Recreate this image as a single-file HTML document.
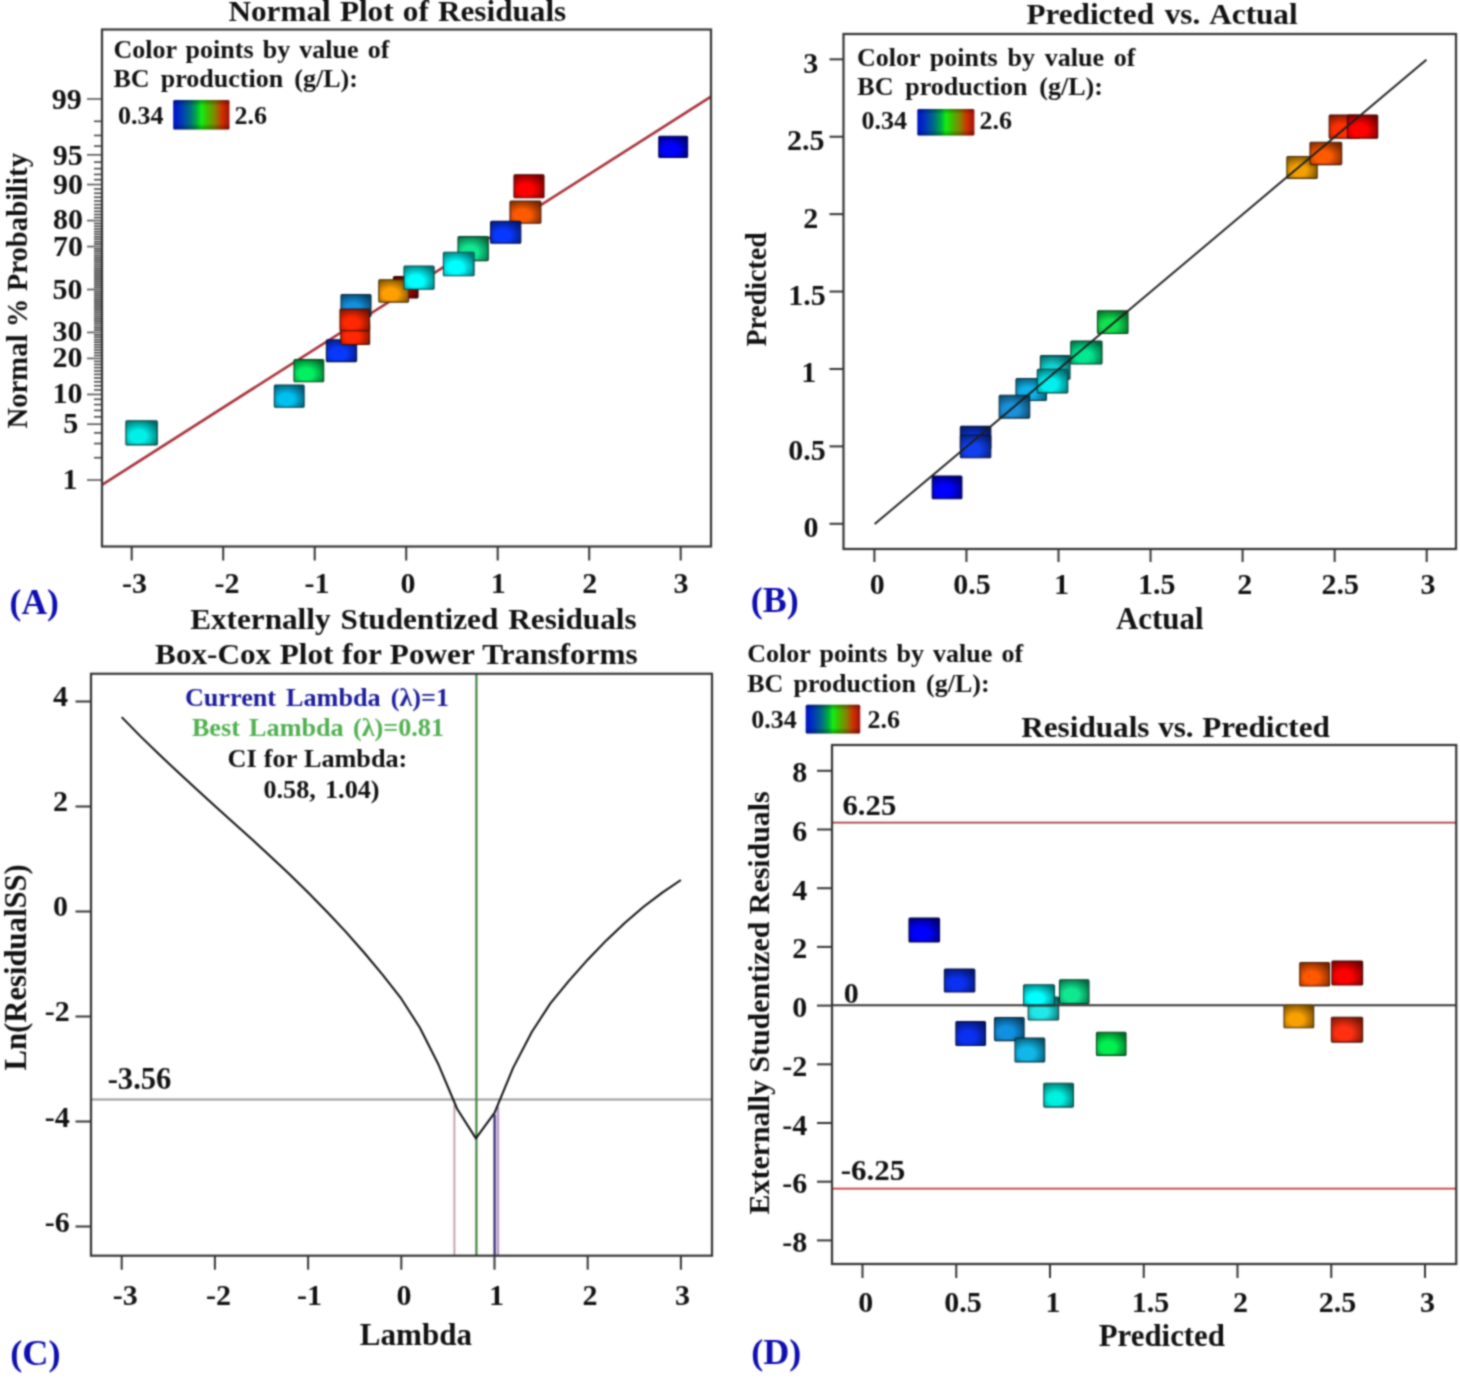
<!DOCTYPE html>
<html><head><meta charset="utf-8"><title>Diagnostics plots</title>
<style>
html,body{margin:0;padding:0;background:#fff;}
svg{display:block;}
text{font-family:"Liberation Serif",serif;font-weight:bold;}
</style></head><body>
<svg width="1460" height="1378" viewBox="0 0 1460 1378">
<defs><filter id="bl" x="0" y="0" width="1460" height="1378" filterUnits="userSpaceOnUse" color-interpolation-filters="sRGB"><feConvolveMatrix order="5" kernelMatrix="0.00048 0.00501 0.01095 0.00501 0.00048 0.00501 0.05222 0.11405 0.05222 0.00501 0.01095 0.11405 0.24912 0.11405 0.01095 0.00501 0.05222 0.11405 0.05222 0.00501 0.00048 0.00501 0.01095 0.00501 0.00048" divisor="1" edgeMode="duplicate"/></filter><radialGradient id="g00f0e8" cx="0.4" cy="0.62" r="0.72" fx="0.4" fy="0.66"><stop offset="0" stop-color="#00f0e8"/><stop offset="0.35" stop-color="#00f0e8"/><stop offset="1" stop-color="#006c68"/></radialGradient><radialGradient id="g00c0f0" cx="0.4" cy="0.62" r="0.72" fx="0.4" fy="0.66"><stop offset="0" stop-color="#00c0f0"/><stop offset="0.35" stop-color="#00c0f0"/><stop offset="1" stop-color="#00566c"/></radialGradient><radialGradient id="g00f060" cx="0.4" cy="0.62" r="0.72" fx="0.4" fy="0.66"><stop offset="0" stop-color="#00f060"/><stop offset="0.35" stop-color="#00f060"/><stop offset="1" stop-color="#006c2b"/></radialGradient><radialGradient id="g0838ff" cx="0.4" cy="0.62" r="0.72" fx="0.4" fy="0.66"><stop offset="0" stop-color="#0838ff"/><stop offset="0.35" stop-color="#0838ff"/><stop offset="1" stop-color="#041973"/></radialGradient><radialGradient id="g1090e0" cx="0.4" cy="0.62" r="0.72" fx="0.4" fy="0.66"><stop offset="0" stop-color="#1090e0"/><stop offset="0.35" stop-color="#1090e0"/><stop offset="1" stop-color="#074165"/></radialGradient><radialGradient id="gff2800" cx="0.4" cy="0.62" r="0.72" fx="0.4" fy="0.66"><stop offset="0" stop-color="#ff2800"/><stop offset="0.35" stop-color="#ff2800"/><stop offset="1" stop-color="#731200"/></radialGradient><radialGradient id="ga00000" cx="0.4" cy="0.62" r="0.72" fx="0.4" fy="0.66"><stop offset="0" stop-color="#a00000"/><stop offset="0.35" stop-color="#a00000"/><stop offset="1" stop-color="#480000"/></radialGradient><radialGradient id="gffa000" cx="0.4" cy="0.62" r="0.72" fx="0.4" fy="0.66"><stop offset="0" stop-color="#ffa000"/><stop offset="0.35" stop-color="#ffa000"/><stop offset="1" stop-color="#734800"/></radialGradient><radialGradient id="g00ffff" cx="0.4" cy="0.62" r="0.72" fx="0.4" fy="0.66"><stop offset="0" stop-color="#00ffff"/><stop offset="0.35" stop-color="#00ffff"/><stop offset="1" stop-color="#007373"/></radialGradient><radialGradient id="g10e890" cx="0.4" cy="0.62" r="0.72" fx="0.4" fy="0.66"><stop offset="0" stop-color="#10e890"/><stop offset="0.35" stop-color="#10e890"/><stop offset="1" stop-color="#076841"/></radialGradient><radialGradient id="gff5a00" cx="0.4" cy="0.62" r="0.72" fx="0.4" fy="0.66"><stop offset="0" stop-color="#ff5a00"/><stop offset="0.35" stop-color="#ff5a00"/><stop offset="1" stop-color="#732800"/></radialGradient><radialGradient id="gff0000" cx="0.4" cy="0.62" r="0.72" fx="0.4" fy="0.66"><stop offset="0" stop-color="#ff0000"/><stop offset="0.35" stop-color="#ff0000"/><stop offset="1" stop-color="#730000"/></radialGradient><radialGradient id="g0000ff" cx="0.4" cy="0.62" r="0.72" fx="0.4" fy="0.66"><stop offset="0" stop-color="#0000ff"/><stop offset="0.35" stop-color="#0000ff"/><stop offset="1" stop-color="#000073"/></radialGradient><radialGradient id="g0a34d8" cx="0.4" cy="0.62" r="0.72" fx="0.4" fy="0.66"><stop offset="0" stop-color="#0a34d8"/><stop offset="0.35" stop-color="#0a34d8"/><stop offset="1" stop-color="#041761"/></radialGradient><radialGradient id="g1040f0" cx="0.4" cy="0.62" r="0.72" fx="0.4" fy="0.66"><stop offset="0" stop-color="#1040f0"/><stop offset="0.35" stop-color="#1040f0"/><stop offset="1" stop-color="#071d6c"/></radialGradient><radialGradient id="g10b0e8" cx="0.4" cy="0.62" r="0.72" fx="0.4" fy="0.66"><stop offset="0" stop-color="#10b0e8"/><stop offset="0.35" stop-color="#10b0e8"/><stop offset="1" stop-color="#074f68"/></radialGradient><radialGradient id="g1a90d8" cx="0.4" cy="0.62" r="0.72" fx="0.4" fy="0.66"><stop offset="0" stop-color="#1a90d8"/><stop offset="0.35" stop-color="#1a90d8"/><stop offset="1" stop-color="#0c4161"/></radialGradient><radialGradient id="g10d0d0" cx="0.4" cy="0.62" r="0.72" fx="0.4" fy="0.66"><stop offset="0" stop-color="#10d0d0"/><stop offset="0.35" stop-color="#10d0d0"/><stop offset="1" stop-color="#075e5e"/></radialGradient><radialGradient id="g00f0f0" cx="0.4" cy="0.62" r="0.72" fx="0.4" fy="0.66"><stop offset="0" stop-color="#00f0f0"/><stop offset="0.35" stop-color="#00f0f0"/><stop offset="1" stop-color="#006c6c"/></radialGradient><radialGradient id="g00e890" cx="0.4" cy="0.62" r="0.72" fx="0.4" fy="0.66"><stop offset="0" stop-color="#00e890"/><stop offset="0.35" stop-color="#00e890"/><stop offset="1" stop-color="#006841"/></radialGradient><radialGradient id="g10e050" cx="0.4" cy="0.62" r="0.72" fx="0.4" fy="0.66"><stop offset="0" stop-color="#10e050"/><stop offset="0.35" stop-color="#10e050"/><stop offset="1" stop-color="#076524"/></radialGradient><radialGradient id="gf0a000" cx="0.4" cy="0.62" r="0.72" fx="0.4" fy="0.66"><stop offset="0" stop-color="#f0a000"/><stop offset="0.35" stop-color="#f0a000"/><stop offset="1" stop-color="#6c4800"/></radialGradient><radialGradient id="gff3000" cx="0.4" cy="0.62" r="0.72" fx="0.4" fy="0.66"><stop offset="0" stop-color="#ff3000"/><stop offset="0.35" stop-color="#ff3000"/><stop offset="1" stop-color="#731600"/></radialGradient><radialGradient id="g0a30f0" cx="0.4" cy="0.62" r="0.72" fx="0.4" fy="0.66"><stop offset="0" stop-color="#0a30f0"/><stop offset="0.35" stop-color="#0a30f0"/><stop offset="1" stop-color="#04166c"/></radialGradient><radialGradient id="g10b8e8" cx="0.4" cy="0.62" r="0.72" fx="0.4" fy="0.66"><stop offset="0" stop-color="#10b8e8"/><stop offset="0.35" stop-color="#10b8e8"/><stop offset="1" stop-color="#075368"/></radialGradient><radialGradient id="g20e8e8" cx="0.4" cy="0.62" r="0.72" fx="0.4" fy="0.66"><stop offset="0" stop-color="#20e8e8"/><stop offset="0.35" stop-color="#20e8e8"/><stop offset="1" stop-color="#0e6868"/></radialGradient><radialGradient id="g00f050" cx="0.4" cy="0.62" r="0.72" fx="0.4" fy="0.66"><stop offset="0" stop-color="#00f050"/><stop offset="0.35" stop-color="#00f050"/><stop offset="1" stop-color="#006c24"/></radialGradient><radialGradient id="g00f0e0" cx="0.4" cy="0.62" r="0.72" fx="0.4" fy="0.66"><stop offset="0" stop-color="#00f0e0"/><stop offset="0.35" stop-color="#00f0e0"/><stop offset="1" stop-color="#006c65"/></radialGradient><radialGradient id="gff5800" cx="0.4" cy="0.62" r="0.72" fx="0.4" fy="0.66"><stop offset="0" stop-color="#ff5800"/><stop offset="0.35" stop-color="#ff5800"/><stop offset="1" stop-color="#732800"/></radialGradient><radialGradient id="gff3010" cx="0.4" cy="0.62" r="0.72" fx="0.4" fy="0.66"><stop offset="0" stop-color="#ff3010"/><stop offset="0.35" stop-color="#ff3010"/><stop offset="1" stop-color="#731607"/></radialGradient><radialGradient id="gf8a000" cx="0.4" cy="0.62" r="0.72" fx="0.4" fy="0.66"><stop offset="0" stop-color="#f8a000"/><stop offset="0.35" stop-color="#f8a000"/><stop offset="1" stop-color="#704800"/></radialGradient><linearGradient id="cbar" x1="0" y1="0" x2="1" y2="0"><stop offset="0" stop-color="#0010c8"/><stop offset="0.12" stop-color="#0030c0"/><stop offset="0.3" stop-color="#007080"/><stop offset="0.42" stop-color="#00b040"/><stop offset="0.5" stop-color="#10f010"/><stop offset="0.6" stop-color="#40c000"/><stop offset="0.75" stop-color="#888000"/><stop offset="0.87" stop-color="#d03000"/><stop offset="1" stop-color="#a01010"/></linearGradient><linearGradient id="cbarv" x1="0" y1="0" x2="0" y2="1"><stop offset="0" stop-color="#000" stop-opacity="0.35"/><stop offset="0.2" stop-color="#000" stop-opacity="0"/><stop offset="0.8" stop-color="#000" stop-opacity="0"/><stop offset="1" stop-color="#000" stop-opacity="0.35"/></linearGradient></defs>
<g filter="url(#bl)">
<rect width="1460" height="1378" fill="#fff"/>
<text transform="translate(228.50,21.00) scale(1.04,1)" x="0" y="0" font-size="30" fill="#111" style="word-spacing:1.35px">Normal Plot of Residuals</text>
<text x="113.40" y="57.70" font-size="26" fill="#111" style="word-spacing:2.66px">Color points by value of</text>
<text x="113.40" y="86.50" font-size="26" fill="#111" style="word-spacing:4.76px">BC production (g/L):</text>
<text x="118.10" y="123.50" font-size="26" fill="#111">0.34</text>
<rect x="173.2" y="100.1" width="56.3" height="29.3" rx="1.5" fill="url(#cbar)"/>
<rect x="173.2" y="100.1" width="56.3" height="29.3" rx="1.5" fill="url(#cbarv)"/>
<text x="234.60" y="123.50" font-size="26" fill="#111">2.6</text>
<line x1="87.00" y1="480.03" x2="102.00" y2="480.03" stroke="#555" stroke-width="1.6"/>
<line x1="94.00" y1="457.70" x2="102.00" y2="457.70" stroke="#444" stroke-width="1.6"/>
<line x1="94.00" y1="443.54" x2="102.00" y2="443.54" stroke="#444" stroke-width="1.6"/>
<line x1="94.00" y1="432.88" x2="102.00" y2="432.88" stroke="#444" stroke-width="1.6"/>
<line x1="87.00" y1="424.21" x2="102.00" y2="424.21" stroke="#555" stroke-width="1.6"/>
<line x1="94.00" y1="416.84" x2="102.00" y2="416.84" stroke="#444" stroke-width="1.6"/>
<line x1="94.00" y1="410.37" x2="102.00" y2="410.37" stroke="#444" stroke-width="1.6"/>
<line x1="94.00" y1="404.58" x2="102.00" y2="404.58" stroke="#444" stroke-width="1.6"/>
<line x1="94.00" y1="399.31" x2="102.00" y2="399.31" stroke="#444" stroke-width="1.6"/>
<line x1="87.00" y1="394.46" x2="102.00" y2="394.46" stroke="#555" stroke-width="1.6"/>
<line x1="94.00" y1="389.95" x2="102.00" y2="389.95" stroke="#444" stroke-width="1.6"/>
<line x1="94.00" y1="385.73" x2="102.00" y2="385.73" stroke="#444" stroke-width="1.6"/>
<line x1="94.00" y1="381.75" x2="102.00" y2="381.75" stroke="#444" stroke-width="1.6"/>
<line x1="94.00" y1="377.98" x2="102.00" y2="377.98" stroke="#444" stroke-width="1.6"/>
<line x1="94.00" y1="374.38" x2="102.00" y2="374.38" stroke="#444" stroke-width="1.6"/>
<line x1="94.00" y1="370.95" x2="102.00" y2="370.95" stroke="#444" stroke-width="1.6"/>
<line x1="94.00" y1="367.65" x2="102.00" y2="367.65" stroke="#444" stroke-width="1.6"/>
<line x1="94.00" y1="364.47" x2="102.00" y2="364.47" stroke="#444" stroke-width="1.6"/>
<line x1="94.00" y1="361.40" x2="102.00" y2="361.40" stroke="#444" stroke-width="1.6"/>
<line x1="87.00" y1="358.43" x2="102.00" y2="358.43" stroke="#555" stroke-width="1.6"/>
<line x1="94.00" y1="355.55" x2="102.00" y2="355.55" stroke="#444" stroke-width="1.6"/>
<line x1="94.00" y1="352.74" x2="102.00" y2="352.74" stroke="#444" stroke-width="1.6"/>
<line x1="94.00" y1="350.01" x2="102.00" y2="350.01" stroke="#444" stroke-width="1.6"/>
<line x1="94.00" y1="347.35" x2="102.00" y2="347.35" stroke="#444" stroke-width="1.6"/>
<line x1="94.00" y1="344.74" x2="102.00" y2="344.74" stroke="#444" stroke-width="1.6"/>
<line x1="94.00" y1="342.19" x2="102.00" y2="342.19" stroke="#444" stroke-width="1.6"/>
<line x1="94.00" y1="339.69" x2="102.00" y2="339.69" stroke="#444" stroke-width="1.6"/>
<line x1="94.00" y1="337.23" x2="102.00" y2="337.23" stroke="#444" stroke-width="1.6"/>
<line x1="94.00" y1="334.82" x2="102.00" y2="334.82" stroke="#444" stroke-width="1.6"/>
<line x1="87.00" y1="332.45" x2="102.00" y2="332.45" stroke="#555" stroke-width="1.6"/>
<line x1="94.00" y1="330.11" x2="102.00" y2="330.11" stroke="#444" stroke-width="1.6"/>
<line x1="94.00" y1="327.80" x2="102.00" y2="327.80" stroke="#444" stroke-width="1.6"/>
<line x1="94.00" y1="325.53" x2="102.00" y2="325.53" stroke="#444" stroke-width="1.6"/>
<line x1="94.00" y1="323.28" x2="102.00" y2="323.28" stroke="#444" stroke-width="1.6"/>
<line x1="94.00" y1="321.06" x2="102.00" y2="321.06" stroke="#444" stroke-width="1.6"/>
<line x1="94.00" y1="318.86" x2="102.00" y2="318.86" stroke="#444" stroke-width="1.6"/>
<line x1="94.00" y1="316.68" x2="102.00" y2="316.68" stroke="#444" stroke-width="1.6"/>
<line x1="94.00" y1="314.52" x2="102.00" y2="314.52" stroke="#444" stroke-width="1.6"/>
<line x1="94.00" y1="312.38" x2="102.00" y2="312.38" stroke="#444" stroke-width="1.6"/>
<line x1="94.00" y1="310.25" x2="102.00" y2="310.25" stroke="#444" stroke-width="1.6"/>
<line x1="94.00" y1="308.14" x2="102.00" y2="308.14" stroke="#444" stroke-width="1.6"/>
<line x1="94.00" y1="306.04" x2="102.00" y2="306.04" stroke="#444" stroke-width="1.6"/>
<line x1="94.00" y1="303.95" x2="102.00" y2="303.95" stroke="#444" stroke-width="1.6"/>
<line x1="94.00" y1="301.86" x2="102.00" y2="301.86" stroke="#444" stroke-width="1.6"/>
<line x1="94.00" y1="299.79" x2="102.00" y2="299.79" stroke="#444" stroke-width="1.6"/>
<line x1="94.00" y1="297.73" x2="102.00" y2="297.73" stroke="#444" stroke-width="1.6"/>
<line x1="94.00" y1="295.66" x2="102.00" y2="295.66" stroke="#444" stroke-width="1.6"/>
<line x1="94.00" y1="293.61" x2="102.00" y2="293.61" stroke="#444" stroke-width="1.6"/>
<line x1="94.00" y1="291.55" x2="102.00" y2="291.55" stroke="#444" stroke-width="1.6"/>
<line x1="87.00" y1="289.50" x2="102.00" y2="289.50" stroke="#555" stroke-width="1.6"/>
<line x1="94.00" y1="287.45" x2="102.00" y2="287.45" stroke="#444" stroke-width="1.6"/>
<line x1="94.00" y1="285.39" x2="102.00" y2="285.39" stroke="#444" stroke-width="1.6"/>
<line x1="94.00" y1="283.34" x2="102.00" y2="283.34" stroke="#444" stroke-width="1.6"/>
<line x1="94.00" y1="281.27" x2="102.00" y2="281.27" stroke="#444" stroke-width="1.6"/>
<line x1="94.00" y1="279.21" x2="102.00" y2="279.21" stroke="#444" stroke-width="1.6"/>
<line x1="94.00" y1="277.14" x2="102.00" y2="277.14" stroke="#444" stroke-width="1.6"/>
<line x1="94.00" y1="275.05" x2="102.00" y2="275.05" stroke="#444" stroke-width="1.6"/>
<line x1="94.00" y1="272.96" x2="102.00" y2="272.96" stroke="#444" stroke-width="1.6"/>
<line x1="94.00" y1="270.86" x2="102.00" y2="270.86" stroke="#444" stroke-width="1.6"/>
<line x1="94.00" y1="268.75" x2="102.00" y2="268.75" stroke="#444" stroke-width="1.6"/>
<line x1="94.00" y1="266.62" x2="102.00" y2="266.62" stroke="#444" stroke-width="1.6"/>
<line x1="94.00" y1="264.48" x2="102.00" y2="264.48" stroke="#444" stroke-width="1.6"/>
<line x1="94.00" y1="262.32" x2="102.00" y2="262.32" stroke="#444" stroke-width="1.6"/>
<line x1="94.00" y1="260.14" x2="102.00" y2="260.14" stroke="#444" stroke-width="1.6"/>
<line x1="94.00" y1="257.94" x2="102.00" y2="257.94" stroke="#444" stroke-width="1.6"/>
<line x1="94.00" y1="255.72" x2="102.00" y2="255.72" stroke="#444" stroke-width="1.6"/>
<line x1="94.00" y1="253.47" x2="102.00" y2="253.47" stroke="#444" stroke-width="1.6"/>
<line x1="94.00" y1="251.20" x2="102.00" y2="251.20" stroke="#444" stroke-width="1.6"/>
<line x1="94.00" y1="248.89" x2="102.00" y2="248.89" stroke="#444" stroke-width="1.6"/>
<line x1="87.00" y1="246.55" x2="102.00" y2="246.55" stroke="#555" stroke-width="1.6"/>
<line x1="94.00" y1="244.18" x2="102.00" y2="244.18" stroke="#444" stroke-width="1.6"/>
<line x1="94.00" y1="241.77" x2="102.00" y2="241.77" stroke="#444" stroke-width="1.6"/>
<line x1="94.00" y1="239.31" x2="102.00" y2="239.31" stroke="#444" stroke-width="1.6"/>
<line x1="94.00" y1="236.81" x2="102.00" y2="236.81" stroke="#444" stroke-width="1.6"/>
<line x1="94.00" y1="234.26" x2="102.00" y2="234.26" stroke="#444" stroke-width="1.6"/>
<line x1="94.00" y1="231.65" x2="102.00" y2="231.65" stroke="#444" stroke-width="1.6"/>
<line x1="94.00" y1="228.99" x2="102.00" y2="228.99" stroke="#444" stroke-width="1.6"/>
<line x1="94.00" y1="226.26" x2="102.00" y2="226.26" stroke="#444" stroke-width="1.6"/>
<line x1="94.00" y1="223.45" x2="102.00" y2="223.45" stroke="#444" stroke-width="1.6"/>
<line x1="87.00" y1="220.57" x2="102.00" y2="220.57" stroke="#555" stroke-width="1.6"/>
<line x1="94.00" y1="217.60" x2="102.00" y2="217.60" stroke="#444" stroke-width="1.6"/>
<line x1="94.00" y1="214.53" x2="102.00" y2="214.53" stroke="#444" stroke-width="1.6"/>
<line x1="94.00" y1="211.35" x2="102.00" y2="211.35" stroke="#444" stroke-width="1.6"/>
<line x1="94.00" y1="208.05" x2="102.00" y2="208.05" stroke="#444" stroke-width="1.6"/>
<line x1="94.00" y1="204.62" x2="102.00" y2="204.62" stroke="#444" stroke-width="1.6"/>
<line x1="94.00" y1="201.02" x2="102.00" y2="201.02" stroke="#444" stroke-width="1.6"/>
<line x1="94.00" y1="197.25" x2="102.00" y2="197.25" stroke="#444" stroke-width="1.6"/>
<line x1="94.00" y1="193.27" x2="102.00" y2="193.27" stroke="#444" stroke-width="1.6"/>
<line x1="94.00" y1="189.05" x2="102.00" y2="189.05" stroke="#444" stroke-width="1.6"/>
<line x1="87.00" y1="184.54" x2="102.00" y2="184.54" stroke="#555" stroke-width="1.6"/>
<line x1="94.00" y1="179.69" x2="102.00" y2="179.69" stroke="#444" stroke-width="1.6"/>
<line x1="94.00" y1="174.42" x2="102.00" y2="174.42" stroke="#444" stroke-width="1.6"/>
<line x1="94.00" y1="168.63" x2="102.00" y2="168.63" stroke="#444" stroke-width="1.6"/>
<line x1="94.00" y1="162.16" x2="102.00" y2="162.16" stroke="#444" stroke-width="1.6"/>
<line x1="87.00" y1="154.79" x2="102.00" y2="154.79" stroke="#555" stroke-width="1.6"/>
<line x1="94.00" y1="146.12" x2="102.00" y2="146.12" stroke="#444" stroke-width="1.6"/>
<line x1="94.00" y1="135.46" x2="102.00" y2="135.46" stroke="#444" stroke-width="1.6"/>
<line x1="94.00" y1="121.30" x2="102.00" y2="121.30" stroke="#444" stroke-width="1.6"/>
<line x1="87.00" y1="98.97" x2="102.00" y2="98.97" stroke="#555" stroke-width="1.6"/>
<text x="51.70" y="109.40" font-size="30" fill="#111">99</text>
<text x="52.80" y="164.90" font-size="30" fill="#111">95</text>
<text x="52.90" y="193.60" font-size="30" fill="#111">90</text>
<text x="52.90" y="229.40" font-size="30" fill="#111">80</text>
<text x="52.90" y="255.80" font-size="30" fill="#111">70</text>
<text x="52.50" y="298.90" font-size="30" fill="#111">50</text>
<text x="52.50" y="340.80" font-size="30" fill="#111">30</text>
<text x="52.50" y="366.50" font-size="30" fill="#111">20</text>
<text x="52.50" y="403.00" font-size="30" fill="#111">10</text>
<text x="63.30" y="433.00" font-size="30" fill="#111">5</text>
<text x="62.60" y="488.70" font-size="30" fill="#111">1</text>
<line x1="131.70" y1="546.50" x2="131.70" y2="560.50" stroke="#333" stroke-width="2"/>
<text x="122.11" y="593.30" font-size="30" fill="#111">-3</text>
<line x1="223.20" y1="546.50" x2="223.20" y2="560.50" stroke="#333" stroke-width="2"/>
<text x="214.61" y="593.30" font-size="30" fill="#111">-2</text>
<line x1="314.70" y1="546.50" x2="314.70" y2="560.50" stroke="#333" stroke-width="2"/>
<text x="304.51" y="593.30" font-size="30" fill="#111">-1</text>
<line x1="406.20" y1="546.50" x2="406.20" y2="560.50" stroke="#333" stroke-width="2"/>
<text x="400.60" y="593.30" font-size="30" fill="#111">0</text>
<line x1="497.70" y1="546.50" x2="497.70" y2="560.50" stroke="#333" stroke-width="2"/>
<text x="490.70" y="593.30" font-size="30" fill="#111">1</text>
<line x1="589.20" y1="546.50" x2="589.20" y2="560.50" stroke="#333" stroke-width="2"/>
<text x="582.20" y="593.30" font-size="30" fill="#111">2</text>
<line x1="680.70" y1="546.50" x2="680.70" y2="560.50" stroke="#333" stroke-width="2"/>
<text x="673.60" y="593.30" font-size="30" fill="#111">3</text>
<text transform="translate(190.20,629.30) scale(1.04,1)" x="0" y="0" font-size="30" fill="#111" style="word-spacing:2.15px">Externally Studentized Residuals</text>
<text transform="translate(27.00,428.50) rotate(-90)" x="0" y="0" font-size="30" fill="#111" textLength="275.50" lengthAdjust="spacingAndGlyphs">Normal % Probability</text>
<text x="9.60" y="613.60" font-size="36" fill="#0e0eb0" textLength="49.32" lengthAdjust="spacingAndGlyphs">(A)</text>
<line x1="102" y1="484.8" x2="711" y2="96.6" stroke="#a8323a" stroke-width="2.6"/>
<rect x="125.9" y="420.7" width="31.4" height="24.2" rx="1" fill="url(#g00f0e8)" stroke="#004341" stroke-width="1.1"/>
<rect x="274.4" y="385.0" width="29.7" height="22.3" rx="1" fill="url(#g00c0f0)" stroke="#003643" stroke-width="1.1"/>
<rect x="294.0" y="359.6" width="29.7" height="22.2" rx="1" fill="url(#g00f060)" stroke="#00431b" stroke-width="1.1"/>
<rect x="326.4" y="339.7" width="30.2" height="21.9" rx="1" fill="url(#g0838ff)" stroke="#021047" stroke-width="1.1"/>
<rect x="341.0" y="294.5" width="30.0" height="22.0" rx="1" fill="url(#g1090e0)" stroke="#04283f" stroke-width="1.1"/>
<rect x="340.8" y="322.5" width="28.8" height="22.0" rx="1" fill="url(#gff2800)" stroke="#470b00" stroke-width="1.1"/>
<rect x="340.0" y="309.0" width="29.6" height="21.8" rx="1" fill="url(#gff2800)" stroke="#470b00" stroke-width="1.1"/>
<rect x="393.5" y="276.5" width="24.5" height="21.5" rx="1" fill="url(#ga00000)" stroke="#2d0000" stroke-width="1.1"/>
<rect x="378.8" y="279.7" width="29.8" height="22.4" rx="1" fill="url(#gffa000)" stroke="#472d00" stroke-width="1.1"/>
<rect x="404.0" y="266.0" width="30.1" height="23.2" rx="1" fill="url(#g00ffff)" stroke="#004747" stroke-width="1.1"/>
<rect x="458.0" y="236.6" width="30.3" height="24.0" rx="1" fill="url(#g10e890)" stroke="#044128" stroke-width="1.1"/>
<rect x="443.4" y="252.2" width="30.7" height="23.6" rx="1" fill="url(#g00ffff)" stroke="#004747" stroke-width="1.1"/>
<rect x="510.0" y="201.0" width="30.9" height="22.2" rx="1" fill="url(#gff5a00)" stroke="#471900" stroke-width="1.1"/>
<rect x="490.6" y="221.4" width="30.2" height="21.9" rx="1" fill="url(#g0838ff)" stroke="#021047" stroke-width="1.1"/>
<rect x="514.0" y="174.7" width="30.0" height="23.1" rx="1" fill="url(#gff0000)" stroke="#470000" stroke-width="1.1"/>
<rect x="658.8" y="136.2" width="28.8" height="21.2" rx="1" fill="url(#g0000ff)" stroke="#000047" stroke-width="1.1"/>
<rect x="102.00" y="29.50" width="609.00" height="517.00" fill="none" stroke="#333" stroke-width="2.2"/>
<text transform="translate(1026.40,24.20) scale(1.04,1)" x="0" y="0" font-size="30" fill="#111" style="word-spacing:2.82px">Predicted vs. Actual</text>
<text x="856.90" y="65.70" font-size="26" fill="#111" style="word-spacing:3.29px">Color points by value of</text>
<text x="857.30" y="94.50" font-size="26" fill="#111" style="word-spacing:5.31px">BC production (g/L):</text>
<text x="861.40" y="129.40" font-size="26" fill="#111">0.34</text>
<rect x="917.3" y="108.9" width="57.1" height="26.7" rx="1.5" fill="url(#cbar)"/>
<rect x="917.3" y="108.9" width="57.1" height="26.7" rx="1.5" fill="url(#cbarv)"/>
<text x="979.60" y="129.40" font-size="26" fill="#111">2.6</text>
<line x1="829.50" y1="59.31" x2="843.50" y2="59.31" stroke="#333" stroke-width="2"/>
<text x="803.20" y="72.81" font-size="30" fill="#111">3</text>
<line x1="829.50" y1="136.72" x2="843.50" y2="136.72" stroke="#333" stroke-width="2"/>
<text x="786.90" y="150.22" font-size="30" fill="#111">2.5</text>
<line x1="829.50" y1="214.14" x2="843.50" y2="214.14" stroke="#333" stroke-width="2"/>
<text x="803.20" y="227.64" font-size="30" fill="#111">2</text>
<line x1="829.50" y1="291.55" x2="843.50" y2="291.55" stroke="#333" stroke-width="2"/>
<text x="788.20" y="305.05" font-size="30" fill="#111">1.5</text>
<line x1="829.50" y1="368.97" x2="843.50" y2="368.97" stroke="#333" stroke-width="2"/>
<text x="801.30" y="382.47" font-size="30" fill="#111">1</text>
<line x1="829.50" y1="446.38" x2="843.50" y2="446.38" stroke="#333" stroke-width="2"/>
<text x="788.20" y="459.88" font-size="30" fill="#111">0.5</text>
<line x1="829.50" y1="523.80" x2="843.50" y2="523.80" stroke="#333" stroke-width="2"/>
<text x="803.40" y="537.30" font-size="30" fill="#111">0</text>
<line x1="874.40" y1="549.00" x2="874.40" y2="562.00" stroke="#333" stroke-width="2"/>
<text x="869.80" y="594.30" font-size="30" fill="#111">0</text>
<line x1="966.45" y1="549.00" x2="966.45" y2="562.00" stroke="#333" stroke-width="2"/>
<text x="953.25" y="594.30" font-size="30" fill="#111">0.5</text>
<line x1="1058.50" y1="549.00" x2="1058.50" y2="562.00" stroke="#333" stroke-width="2"/>
<text x="1053.90" y="594.30" font-size="30" fill="#111">1</text>
<line x1="1150.55" y1="549.00" x2="1150.55" y2="562.00" stroke="#333" stroke-width="2"/>
<text x="1137.95" y="594.30" font-size="30" fill="#111">1.5</text>
<line x1="1242.60" y1="549.00" x2="1242.60" y2="562.00" stroke="#333" stroke-width="2"/>
<text x="1237.30" y="594.30" font-size="30" fill="#111">2</text>
<line x1="1334.65" y1="549.00" x2="1334.65" y2="562.00" stroke="#333" stroke-width="2"/>
<text x="1321.45" y="594.30" font-size="30" fill="#111">2.5</text>
<line x1="1426.70" y1="549.00" x2="1426.70" y2="562.00" stroke="#333" stroke-width="2"/>
<text x="1420.40" y="594.30" font-size="30" fill="#111">3</text>
<text x="1116.00" y="628.60" font-size="31" fill="#111" textLength="87.52" lengthAdjust="spacingAndGlyphs">Actual</text>
<text transform="translate(766.00,346.60) rotate(-90)" x="0" y="0" font-size="30" fill="#111" textLength="114.27" lengthAdjust="spacingAndGlyphs">Predicted</text>
<text x="750.80" y="612.30" font-size="36" fill="#0e0eb0" textLength="47.92" lengthAdjust="spacingAndGlyphs">(B)</text>
<rect x="932.2" y="476.0" width="29.7" height="22.8" rx="1" fill="url(#g0000ff)" stroke="#000047" stroke-width="1.1"/>
<rect x="960.4" y="426.4" width="30.4" height="22.6" rx="1" fill="url(#g0a34d8)" stroke="#030f3c" stroke-width="1.1"/>
<rect x="960.4" y="435.0" width="30.4" height="22.7" rx="1" fill="url(#g1040f0)" stroke="#041243" stroke-width="1.1"/>
<rect x="1016.0" y="378.5" width="30.4" height="22.0" rx="1" fill="url(#g10b0e8)" stroke="#043141" stroke-width="1.1"/>
<rect x="999.2" y="395.2" width="30.5" height="22.9" rx="1" fill="url(#g1a90d8)" stroke="#07283c" stroke-width="1.1"/>
<rect x="1040.4" y="355.6" width="29.6" height="23.6" rx="1" fill="url(#g10d0d0)" stroke="#043a3a" stroke-width="1.1"/>
<rect x="1037.3" y="369.3" width="30.5" height="23.6" rx="1" fill="url(#g00f0f0)" stroke="#004343" stroke-width="1.1"/>
<rect x="1070.8" y="341.1" width="31.2" height="22.9" rx="1" fill="url(#g00e890)" stroke="#004128" stroke-width="1.1"/>
<rect x="1097.5" y="310.7" width="30.5" height="22.8" rx="1" fill="url(#g10e050)" stroke="#043f16" stroke-width="1.1"/>
<rect x="1286.9" y="156.5" width="30.3" height="21.9" rx="1" fill="url(#gf0a000)" stroke="#432d00" stroke-width="1.1"/>
<rect x="1310.0" y="142.3" width="31.7" height="22.3" rx="1" fill="url(#gff5a00)" stroke="#471900" stroke-width="1.1"/>
<rect x="1329.2" y="115.1" width="30.3" height="23.2" rx="1" fill="url(#gff3000)" stroke="#470d00" stroke-width="1.1"/>
<rect x="1347.5" y="115.1" width="30.2" height="23.2" rx="1" fill="url(#gff0000)" stroke="#470000" stroke-width="1.1"/>
<line x1="874.7" y1="524" x2="1426.4" y2="59.8" stroke="#1e1e1e" stroke-width="1.9"/>
<rect x="843.50" y="34.00" width="612.50" height="515.00" fill="none" stroke="#333" stroke-width="2.2"/>
<text transform="translate(155.10,664.40) scale(1.04,1)" x="0" y="0" font-size="30" fill="#111" style="word-spacing:0.75px">Box-Cox Plot for Power Transforms</text>
<text x="184.90" y="705.80" font-size="26.2" fill="#1c1c9c" style="word-spacing:3.46px">Current Lambda (λ)=1</text>
<text x="191.90" y="735.60" font-size="26.2" fill="#50b050" style="word-spacing:2.67px">Best Lambda (λ)=0.81</text>
<text x="227.60" y="767.40" font-size="26.2" fill="#111" style="word-spacing:0.62px">CI for Lambda:</text>
<text x="263.40" y="798.20" font-size="26.2" fill="#111" style="word-spacing:2.69px">0.58, 1.04)</text>
<line x1="75.50" y1="701.50" x2="91.00" y2="701.50" stroke="#333" stroke-width="2"/>
<text x="53.10" y="706.30" font-size="30" fill="#111">4</text>
<line x1="75.50" y1="806.50" x2="91.00" y2="806.50" stroke="#333" stroke-width="2"/>
<text x="53.10" y="810.60" font-size="30" fill="#111">2</text>
<line x1="75.50" y1="911.50" x2="91.00" y2="911.50" stroke="#333" stroke-width="2"/>
<text x="53.10" y="915.80" font-size="30" fill="#111">0</text>
<line x1="75.50" y1="1016.50" x2="91.00" y2="1016.50" stroke="#333" stroke-width="2"/>
<text x="44.82" y="1020.70" font-size="30" fill="#111">-2</text>
<line x1="75.50" y1="1121.50" x2="91.00" y2="1121.50" stroke="#333" stroke-width="2"/>
<text x="44.82" y="1126.90" font-size="30" fill="#111">-4</text>
<line x1="75.50" y1="1226.50" x2="91.00" y2="1226.50" stroke="#333" stroke-width="2"/>
<text x="44.82" y="1231.50" font-size="30" fill="#111">-6</text>
<line x1="121.70" y1="1255.70" x2="121.70" y2="1269.70" stroke="#333" stroke-width="2"/>
<text x="112.71" y="1304.80" font-size="30" fill="#111">-3</text>
<line x1="214.90" y1="1255.70" x2="214.90" y2="1269.70" stroke="#333" stroke-width="2"/>
<text x="206.01" y="1304.80" font-size="30" fill="#111">-2</text>
<line x1="308.10" y1="1255.70" x2="308.10" y2="1269.70" stroke="#333" stroke-width="2"/>
<text x="296.91" y="1304.80" font-size="30" fill="#111">-1</text>
<line x1="401.30" y1="1255.70" x2="401.30" y2="1269.70" stroke="#333" stroke-width="2"/>
<text x="396.40" y="1304.80" font-size="30" fill="#111">0</text>
<line x1="494.50" y1="1255.70" x2="494.50" y2="1269.70" stroke="#333" stroke-width="2"/>
<text x="488.90" y="1304.80" font-size="30" fill="#111">1</text>
<line x1="587.70" y1="1255.70" x2="587.70" y2="1269.70" stroke="#333" stroke-width="2"/>
<text x="582.40" y="1304.80" font-size="30" fill="#111">2</text>
<line x1="680.90" y1="1255.70" x2="680.90" y2="1269.70" stroke="#333" stroke-width="2"/>
<text x="675.10" y="1304.80" font-size="30" fill="#111">3</text>
<text x="359.80" y="1345.00" font-size="31" fill="#111" textLength="112.20" lengthAdjust="spacingAndGlyphs">Lambda</text>
<text transform="translate(25.80,1070.40) rotate(-90)" x="0" y="0" font-size="32" fill="#111" textLength="206.19" lengthAdjust="spacingAndGlyphs">Ln(ResidualSS)</text>
<text x="10.30" y="1364.50" font-size="36" fill="#0e0eb0" textLength="50.33" lengthAdjust="spacingAndGlyphs">(C)</text>
<line x1="91.00" y1="1099.40" x2="712.00" y2="1099.40" stroke="#9a9a9a" stroke-width="2"/>
<text x="107.70" y="1089.00" font-size="30.5" fill="#111" textLength="63.72" lengthAdjust="spacingAndGlyphs">-3.56</text>
<line x1="454.40" y1="1105.00" x2="454.40" y2="1255.70" stroke="#c09aa2" stroke-width="1.8"/>
<line x1="497.90" y1="1106.60" x2="497.90" y2="1255.70" stroke="#b89cc8" stroke-width="2.6"/>
<line x1="494.60" y1="1114.60" x2="494.60" y2="1255.70" stroke="#2c2470" stroke-width="2.2"/>
<line x1="476.40" y1="673.75" x2="476.40" y2="1255.70" stroke="#3f863f" stroke-width="2.2"/>
<path d="M121.7,717.1 L140.3,736.1 L159.0,754.3 L177.6,771.8 L196.3,789.0 L214.9,805.9 L233.5,822.7 L252.2,839.6 L270.8,856.7 L289.5,874.3 L308.1,892.5 L326.7,911.5 L345.4,931.4 L364.0,952.5 L382.7,974.8 L401.3,998.7 L419.9,1027.7 L438.6,1064.8 L457.2,1109.0 L475.9,1138.4 L494.5,1112.8 L513.1,1067.9 L531.8,1032.0 L550.4,1003.4 L569.1,980.7 L587.7,959.7 L606.3,940.4 L625.0,922.8 L643.6,906.8 L662.3,892.6 L680.9,880.0" fill="none" stroke="#111" stroke-width="2" stroke-linejoin="round"/>
<rect x="91.00" y="673.75" width="621.00" height="581.95" fill="none" stroke="#333" stroke-width="2.2"/>
<text x="747.20" y="661.60" font-size="26" fill="#111" style="word-spacing:2.66px">Color points by value of</text>
<text x="747.20" y="692.40" font-size="26" fill="#111" style="word-spacing:3.71px">BC production (g/L):</text>
<text x="751.30" y="728.30" font-size="26" fill="#111">0.34</text>
<rect x="805.7" y="704.7" width="54.5" height="28.8" rx="1.5" fill="url(#cbar)"/>
<rect x="805.7" y="704.7" width="54.5" height="28.8" rx="1.5" fill="url(#cbarv)"/>
<text x="867.40" y="728.30" font-size="26" fill="#111">2.6</text>
<text transform="translate(1021.25,737.00) scale(1.04,1)" x="0" y="0" font-size="30" fill="#111" style="word-spacing:0.80px">Residuals vs. Predicted</text>
<line x1="817.00" y1="770.80" x2="832.00" y2="770.80" stroke="#333" stroke-width="2"/>
<text x="792.30" y="782.30" font-size="30" fill="#111">8</text>
<line x1="817.00" y1="829.50" x2="832.00" y2="829.50" stroke="#333" stroke-width="2"/>
<text x="792.30" y="841.00" font-size="30" fill="#111">6</text>
<line x1="817.00" y1="888.20" x2="832.00" y2="888.20" stroke="#333" stroke-width="2"/>
<text x="792.30" y="899.70" font-size="30" fill="#111">4</text>
<line x1="817.00" y1="946.90" x2="832.00" y2="946.90" stroke="#333" stroke-width="2"/>
<text x="792.30" y="958.40" font-size="30" fill="#111">2</text>
<line x1="817.00" y1="1005.60" x2="832.00" y2="1005.60" stroke="#333" stroke-width="2"/>
<text x="792.30" y="1017.10" font-size="30" fill="#111">0</text>
<line x1="817.00" y1="1064.30" x2="832.00" y2="1064.30" stroke="#333" stroke-width="2"/>
<text x="782.32" y="1075.80" font-size="30" fill="#111">-2</text>
<line x1="817.00" y1="1123.00" x2="832.00" y2="1123.00" stroke="#333" stroke-width="2"/>
<text x="782.32" y="1134.50" font-size="30" fill="#111">-4</text>
<line x1="817.00" y1="1181.70" x2="832.00" y2="1181.70" stroke="#333" stroke-width="2"/>
<text x="782.32" y="1193.20" font-size="30" fill="#111">-6</text>
<line x1="817.00" y1="1240.40" x2="832.00" y2="1240.40" stroke="#333" stroke-width="2"/>
<text x="782.32" y="1251.90" font-size="30" fill="#111">-8</text>
<line x1="862.50" y1="1264.00" x2="862.50" y2="1278.00" stroke="#333" stroke-width="2"/>
<text x="858.30" y="1311.50" font-size="30" fill="#111">0</text>
<line x1="956.25" y1="1264.00" x2="956.25" y2="1278.00" stroke="#333" stroke-width="2"/>
<text x="944.15" y="1311.50" font-size="30" fill="#111">0.5</text>
<line x1="1050.00" y1="1264.00" x2="1050.00" y2="1278.00" stroke="#333" stroke-width="2"/>
<text x="1045.50" y="1311.50" font-size="30" fill="#111">1</text>
<line x1="1143.75" y1="1264.00" x2="1143.75" y2="1278.00" stroke="#333" stroke-width="2"/>
<text x="1131.85" y="1311.50" font-size="30" fill="#111">1.5</text>
<line x1="1237.50" y1="1264.00" x2="1237.50" y2="1278.00" stroke="#333" stroke-width="2"/>
<text x="1233.10" y="1311.50" font-size="30" fill="#111">2</text>
<line x1="1331.25" y1="1264.00" x2="1331.25" y2="1278.00" stroke="#333" stroke-width="2"/>
<text x="1318.75" y="1311.50" font-size="30" fill="#111">2.5</text>
<line x1="1425.00" y1="1264.00" x2="1425.00" y2="1278.00" stroke="#333" stroke-width="2"/>
<text x="1420.00" y="1311.50" font-size="30" fill="#111">3</text>
<text x="1098.75" y="1346.25" font-size="31" fill="#111" textLength="126.22" lengthAdjust="spacingAndGlyphs">Predicted</text>
<text transform="translate(769.00,1214.40) rotate(-90)" x="0" y="0" font-size="30" fill="#111" textLength="423.03" lengthAdjust="spacingAndGlyphs">Externally Studentized Residuals</text>
<text x="751.20" y="1363.50" font-size="36" fill="#0e0eb0" textLength="50.13" lengthAdjust="spacingAndGlyphs">(D)</text>
<line x1="832.00" y1="822.70" x2="1456.25" y2="822.70" stroke="#a83c44" stroke-width="1.8"/>
<line x1="832.00" y1="1188.60" x2="1456.25" y2="1188.60" stroke="#c03a40" stroke-width="1.8"/>
<text x="842.50" y="815.00" font-size="30" fill="#111" textLength="53.75" lengthAdjust="spacingAndGlyphs">6.25</text>
<text x="840.70" y="1180.00" font-size="30" fill="#111" textLength="64.72" lengthAdjust="spacingAndGlyphs">-6.25</text>
<text x="843.80" y="1002.50" font-size="30" fill="#111">0</text>
<rect x="909.0" y="918.1" width="30.5" height="23.8" rx="1" fill="url(#g0000ff)" stroke="#000047" stroke-width="1.1"/>
<rect x="944.4" y="969.0" width="30.4" height="23.0" rx="1" fill="url(#g0a30f0)" stroke="#030d43" stroke-width="1.1"/>
<rect x="955.9" y="1021.6" width="29.6" height="23.9" rx="1" fill="url(#g0a30f0)" stroke="#030d43" stroke-width="1.1"/>
<rect x="994.5" y="1017.5" width="29.6" height="23.1" rx="1" fill="url(#g1090e0)" stroke="#04283f" stroke-width="1.1"/>
<rect x="1015.0" y="1038.1" width="29.7" height="23.8" rx="1" fill="url(#g10b8e8)" stroke="#043441" stroke-width="1.1"/>
<rect x="1028.2" y="997.0" width="30.4" height="23.0" rx="1" fill="url(#g20e8e8)" stroke="#094141" stroke-width="1.1"/>
<rect x="1023.6" y="984.7" width="30.9" height="21.3" rx="1" fill="url(#g00ffff)" stroke="#004747" stroke-width="1.1"/>
<rect x="1059.5" y="979.7" width="29.5" height="23.9" rx="1" fill="url(#g10e890)" stroke="#044128" stroke-width="1.1"/>
<rect x="1096.5" y="1032.3" width="29.5" height="23.1" rx="1" fill="url(#g00f050)" stroke="#004316" stroke-width="1.1"/>
<rect x="1043.8" y="1083.3" width="29.6" height="23.8" rx="1" fill="url(#g00f0e0)" stroke="#00433f" stroke-width="1.1"/>
<rect x="1299.8" y="962.5" width="29.7" height="23.5" rx="1" fill="url(#gff5800)" stroke="#471900" stroke-width="1.1"/>
<rect x="1331.9" y="961.1" width="30.7" height="23.9" rx="1" fill="url(#gff0000)" stroke="#470000" stroke-width="1.1"/>
<rect x="1331.4" y="1017.2" width="31.2" height="24.9" rx="1" fill="url(#gff3010)" stroke="#470d04" stroke-width="1.1"/>
<line x1="832.00" y1="1005.20" x2="1284.00" y2="1005.20" stroke="#333" stroke-width="2"/>
<line x1="1313.70" y1="1005.20" x2="1456.25" y2="1005.20" stroke="#333" stroke-width="2"/>
<rect x="1284.0" y="1004.7" width="29.7" height="23.0" rx="1" fill="url(#gf8a000)" stroke="#452d00" stroke-width="1.1"/>
<rect x="832.00" y="745.00" width="624.25" height="519.00" fill="none" stroke="#333" stroke-width="2.2"/>
</g>
</svg>
</body></html>
